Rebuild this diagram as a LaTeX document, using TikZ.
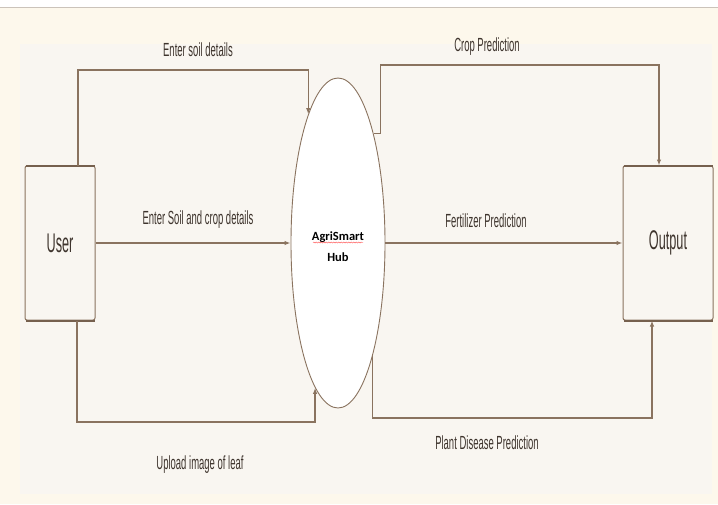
\documentclass[tikz,border=0pt]{standalone}
\usepackage{fontspec}
\usepackage{tikz}
\usetikzlibrary{arrows.meta,shapes.geometric,decorations.pathmorphing}
\newfontfamily\labelfont[FakeStretch=0.5]{Liberation Sans}
\newfontfamily\boxfont[FakeStretch=0.47]{Liberation Sans}
\newfontfamily\hubfont{Carlito}
\definecolor{agrline}{HTML}{8A735F}
\definecolor{agredge}{HTML}{76604E}
\definecolor{agrtext}{HTML}{3E342D}
\definecolor{agrpage}{HTML}{FDF8EC}
\definecolor{agrpanel}{HTML}{F9F6F1}
\definecolor{agrrule}{HTML}{CBC3BA}

\begin{document}
\begin{tikzpicture}[x=1pt,y=-1pt,
  flow/.style={agrline,line width=1.3pt,-{Latex[length=6pt,width=4.5pt]}},
  entity/.style={draw=agrline,line width=1pt,fill=agrpanel,rounded corners=2pt,minimum height=154pt,inner sep=0pt,font=\boxfont\fontsize{27}{30}\selectfont,text=agrtext},
  flowlabel/.style={font=\labelfont\fontsize{19}{22}\selectfont,text=agrtext,inner sep=0pt}]
  \useasboundingbox (0,0) rectangle (718,504);
  \fill[agrpage] (0,0) rectangle (718,504);
  \fill[white] (0,0) rectangle (718,7);
  \draw[agrrule,line width=1pt] (0,7) -- (718,7);
  \fill[agrpanel] (20,44) rectangle (712,494);

  \node[entity,minimum width=70pt] (user) at (60,243) {User};
  \node[entity,minimum width=90pt] (output) at (668,243) {Output};
  \foreach \b in {user,output} {
    \draw[agredge,line width=2pt] ([xshift=1pt]\b.north west) -- ([xshift=-1pt]\b.north east);
    \draw[agredge,line width=2pt] ([xshift=1pt]\b.south west) -- ([xshift=-1pt]\b.south east);
  }
  \node[ellipse,draw=agrline,line width=0.9pt,fill=white,minimum width=94pt,minimum height=330pt,inner sep=0pt] (hub) at (338,243) {};
  \node[font=\hubfont\bfseries\fontsize{12.5}{21}\selectfont,align=center,inner sep=0pt] (hubtext) at (338,247) {AgriSmart\\Hub};
  \draw[red!75,line width=0.4pt,decorate,decoration={snake,amplitude=0.5pt,segment length=2.5pt}]
    ([xshift=-25pt,yshift=4.5pt]hubtext.center) -- ([xshift=25pt,yshift=4.5pt]hubtext.center);

  \coordinate (ua) at ([xshift=18pt]user.north);
  \coordinate (ub) at ([xshift=17pt]user.south);
  \coordinate (oa) at ([xshift=-9pt]output.north);
  \coordinate (ob) at ([xshift=-16pt]output.south);

  \draw[flow] (ua) |- (hub.103 |- 0,70) -- (hub.103);
  \draw[flow] (user.east) -- (hub.west);
  \draw[flow] (ub) |- (hub.261 |- 0,422) -- (hub.261);
  \draw[flow] (hub.72) -- ++(7,0) |- (oa |- 0,65) -- (oa);
  \draw[flow] (hub.east) -- (output.west);
  \draw[flow] (hub.287) |- (ob |- 0,418) -- (ob);

  \node[flowlabel] (lsoil) at (198,50) {Enter soil details};
  \node[flowlabel] (lcrop) at (487,47) {Crop Prediction};
  \node[flowlabel] (lsoilcrop) at (198,220) {Enter Soil and crop details};
  \node[flowlabel] (lfert) at (486,221) {Fertilizer Prediction};
  \node[flowlabel] (lleaf) at (200,465) {Upload image of leaf};
  \node[flowlabel] (ldisease) at (487,443) {Plant Disease Prediction};
\end{tikzpicture}
\end{document}
